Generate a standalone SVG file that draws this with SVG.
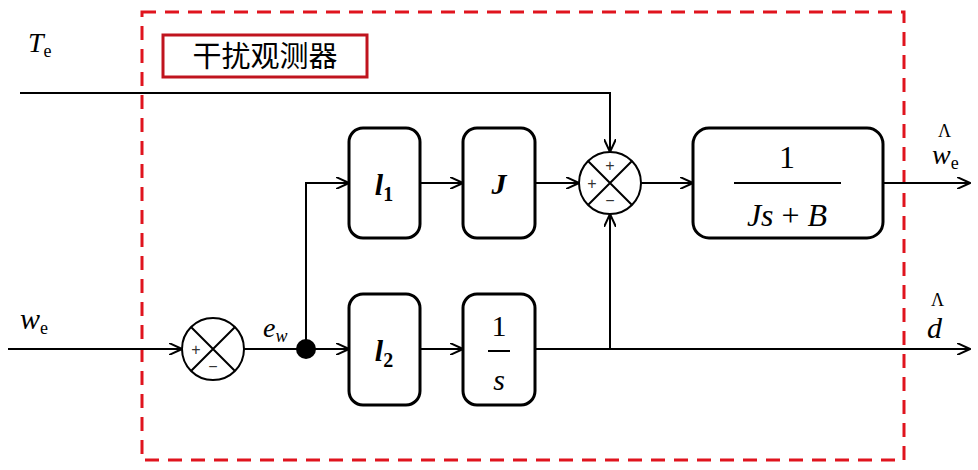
<svg xmlns="http://www.w3.org/2000/svg" width="978" height="470" viewBox="0 0 978 470">
<style>
.ln{stroke:#000;stroke-width:2;fill:none}
.bx{stroke:#000;stroke-width:3;fill:#fff}
.s{font-family:'Liberation Sans',sans-serif;font-size:16px;fill:#333}
</style>
<defs>
<marker id="a" markerWidth="14" markerHeight="12" refX="13" refY="6" orient="auto" markerUnits="userSpaceOnUse">
<path d="M0,0 L13,6 L0,12" fill="none" stroke="#000" stroke-width="2"/>
</marker>
</defs>
<rect x="0" y="0" width="978" height="470" fill="#fff"/>
<rect x="142" y="12" width="762" height="448" fill="none" stroke="#e0141e" stroke-width="3" stroke-dasharray="14,9"/>
<g id="label"><rect x="163" y="35" width="204" height="42" fill="#fff" stroke="#c0141e" stroke-width="3"/>
<text x="265" y="67" text-anchor="middle" font-family="Noto Sans CJK SC,sans-serif" font-size="29">干扰观测器</text></g>
<g id="connectors">
<path class="ln" d="M20,93 H610 V152" marker-end="url(#a)"/>
<path class="ln" d="M8,349 H182" marker-end="url(#a)"/>
<path class="ln" d="M244,349 H349" marker-end="url(#a)"/>
<path class="ln" d="M306,349 V183 H349" marker-end="url(#a)"/>
<path class="ln" d="M420,183 H463" marker-end="url(#a)"/>
<path class="ln" d="M420,349 H463" marker-end="url(#a)"/>
<path class="ln" d="M535,183 H579" marker-end="url(#a)"/>
<path class="ln" d="M641,183 H693" marker-end="url(#a)"/>
<path class="ln" d="M883,183 H970" marker-end="url(#a)"/>
<path class="ln" d="M535,349 H970" marker-end="url(#a)"/>
<path class="ln" d="M610,349 V214" marker-end="url(#a)"/>
<circle cx="306" cy="349" r="10" fill="#000"/>
</g>
<g font-family="Liberation Serif, Times New Roman, DejaVu Serif, serif" fill="#000">
<g id="sum1"><circle cx="213" cy="349" r="31" class="ln" fill="#fff"/>
<path class="ln" d="M191,327 L235,371 M235,327 L191,371"/>
<text class="s" x="196" y="355" text-anchor="middle">+</text><text class="s" x="213" y="372" text-anchor="middle">−</text></g>
<g id="sum2"><circle cx="610" cy="183" r="31" class="ln" fill="#fff"/>
<path class="ln" d="M588,161 L632,205 M632,161 L588,205"/>
<text class="s" x="592" y="189" text-anchor="middle">+</text><text class="s" x="610" y="171" text-anchor="middle">+</text><text class="s" x="610" y="206" text-anchor="middle">−</text></g>
<g id="l1"><rect class="bx" x="349" y="128" width="71" height="110" rx="14"/><text x="384" y="195" text-anchor="middle" font-size="30" font-style="italic" font-weight="bold">l<tspan font-size="20" font-style="normal" dy="6">1</tspan></text></g>
<g id="J"><rect class="bx" x="463" y="128" width="72" height="110" rx="14"/><text x="499" y="194" text-anchor="middle" font-size="30" font-style="italic" font-weight="bold">J</text></g>
<g id="l2"><rect class="bx" x="349" y="294" width="71" height="111" rx="14"/><text x="384" y="361" text-anchor="middle" font-size="30" font-style="italic" font-weight="bold">l<tspan font-size="20" font-style="normal" dy="6">2</tspan></text></g>
<g id="integ"><rect class="bx" x="463" y="294" width="72" height="111" rx="14"/><text x="499" y="336" text-anchor="middle" font-size="30">1</text><line x1="488" y1="351" x2="510" y2="351" stroke="#000" stroke-width="2"/><text x="499" y="390" text-anchor="middle" font-size="30" font-style="italic">s</text></g>
<g id="plant"><rect class="bx" x="693" y="128" width="190" height="110" rx="16"/><text x="787" y="168" text-anchor="middle" font-size="32">1</text><line x1="734" y1="183" x2="841" y2="183" stroke="#000" stroke-width="2"/><text x="787" y="226" text-anchor="middle" font-size="32"><tspan font-style="italic">Js</tspan> + <tspan font-style="italic">B</tspan></text></g>
<g id="texts">
<text x="28" y="52" font-size="28" font-style="italic">T<tspan font-size="18" font-style="normal" dy="5">e</tspan></text>
<text x="20" y="329" font-size="30" font-style="italic">w<tspan font-size="18" font-style="normal" dy="5">e</tspan></text>
<text x="263" y="337" font-size="28" font-style="italic">e<tspan font-size="18" dy="5">w</tspan></text>
<text x="932" y="164" font-size="28" font-style="italic">w<tspan font-size="18" font-style="normal" dy="5">e</tspan></text>
<text x="938" y="137" font-size="18">Λ</text>
<text x="927" y="338" font-size="30" font-style="italic">d</text>
<text x="931" y="306" font-size="18">Λ</text>
</g>
</g>
</svg>
